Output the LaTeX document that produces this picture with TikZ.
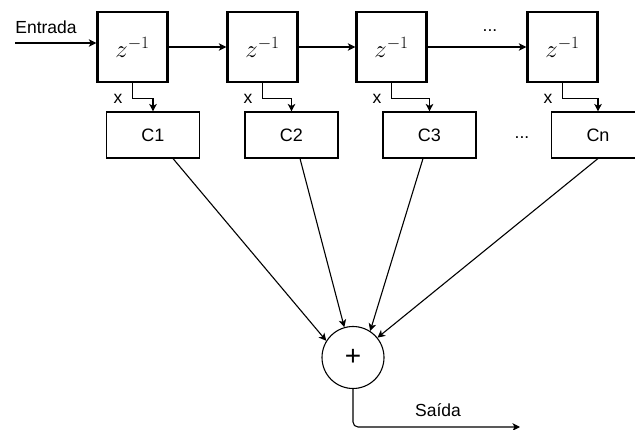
\documentclass[tikz,border=0pt]{standalone}
\usepackage{fontspec}
\setmainfont{Liberation Sans}
\usetikzlibrary{arrows.meta,calc}
\begin{document}
\begin{tikzpicture}[x=1pt,y=-1pt,
  delaybox/.style={draw,line width=2.4pt,minimum width=70pt,minimum height=70pt,inner sep=0pt,font=\fontsize{24}{28}\selectfont},
  coefbox/.style={draw,line width=1.1pt,minimum width=93pt,minimum height=46pt,inner sep=0pt,font=\fontsize{18}{20}\selectfont},
  sumnode/.style={draw,circle,line width=1.1pt,minimum size=62pt,inner sep=0pt,font=\fontsize{28}{30}\selectfont},
  lbl/.style={font=\fontsize{17.5}{20}\selectfont,inner sep=0pt},
  conn/.style={line width=1.1pt,-{Stealth[length=7.5pt,width=7.5pt,inset=2pt]}}
]
\useasboundingbox (0,0) rectangle (635,430);
% delay boxes
\node[delaybox] (d1) at (132.5,47) {$z^{-1}$};
\node[delaybox] (d2) at (262.5,47) {$z^{-1}$};
\node[delaybox] (d3) at (391.5,47) {$z^{-1}$};
\node[delaybox] (d4) at (562.5,47) {$z^{-1}$};
% coefficient boxes
\node[coefbox] (c1) at (153,135) {C1};
\node[coefbox] (c2) at (291.5,135) {C2};
\node[coefbox] (c3) at (429.5,135) {C3};
\node[coefbox] (cn) at (598,135) {Cn};
% sum
\node[sumnode] (sum) at (353,357.5) {+};
% labels
\node[lbl] (ent) at (46,27) {Entrada};
\node[lbl] (dots1) at (490,31) {...};
\node[lbl] (dots2) at (522,138) {...};
\node[lbl] (x1) at (118,99) {x};
\node[lbl] (x2) at (248,99) {x};
\node[lbl] (x3) at (377,99) {x};
\node[lbl] (x4) at (548,99) {x};
\node[lbl] (out) at (438,410) {Saída};
% input
\coordinate (in) at (15,43);
\draw[conn] (in) -- (in -| d1.west);
% chain
\draw[conn] (d1) -- (d2);
\draw[conn] (d2) -- (d3);
\draw[conn] (d3) -- (d4);
% taps
\draw[conn] (d1.south) -- ++(0,15) -| (c1.north);
\draw[conn] (d2.south) -- ++(0,15) -| (c2.north);
\draw[conn] (d3.south) -- ++(0,15) -| (c3.north);
\draw[conn] (d4.south) -- ++(0,15) -| (cn.north);
% to sum
\draw[conn] ($(c1.south)+(20,0)$) -- (sum.148);
\draw[conn] ($(c2.south)+(8.5,0)$) -- (sum.106);
\draw[conn] ($(c3.south)+(-6.5,0)$) -- (sum.57);
\draw[conn] (cn.south) -- (sum.39);
% output
\coordinate (o) at (520,427);
\draw[conn,rounded corners=5pt] (sum.south) |- (o);
\end{tikzpicture}
\end{document}
